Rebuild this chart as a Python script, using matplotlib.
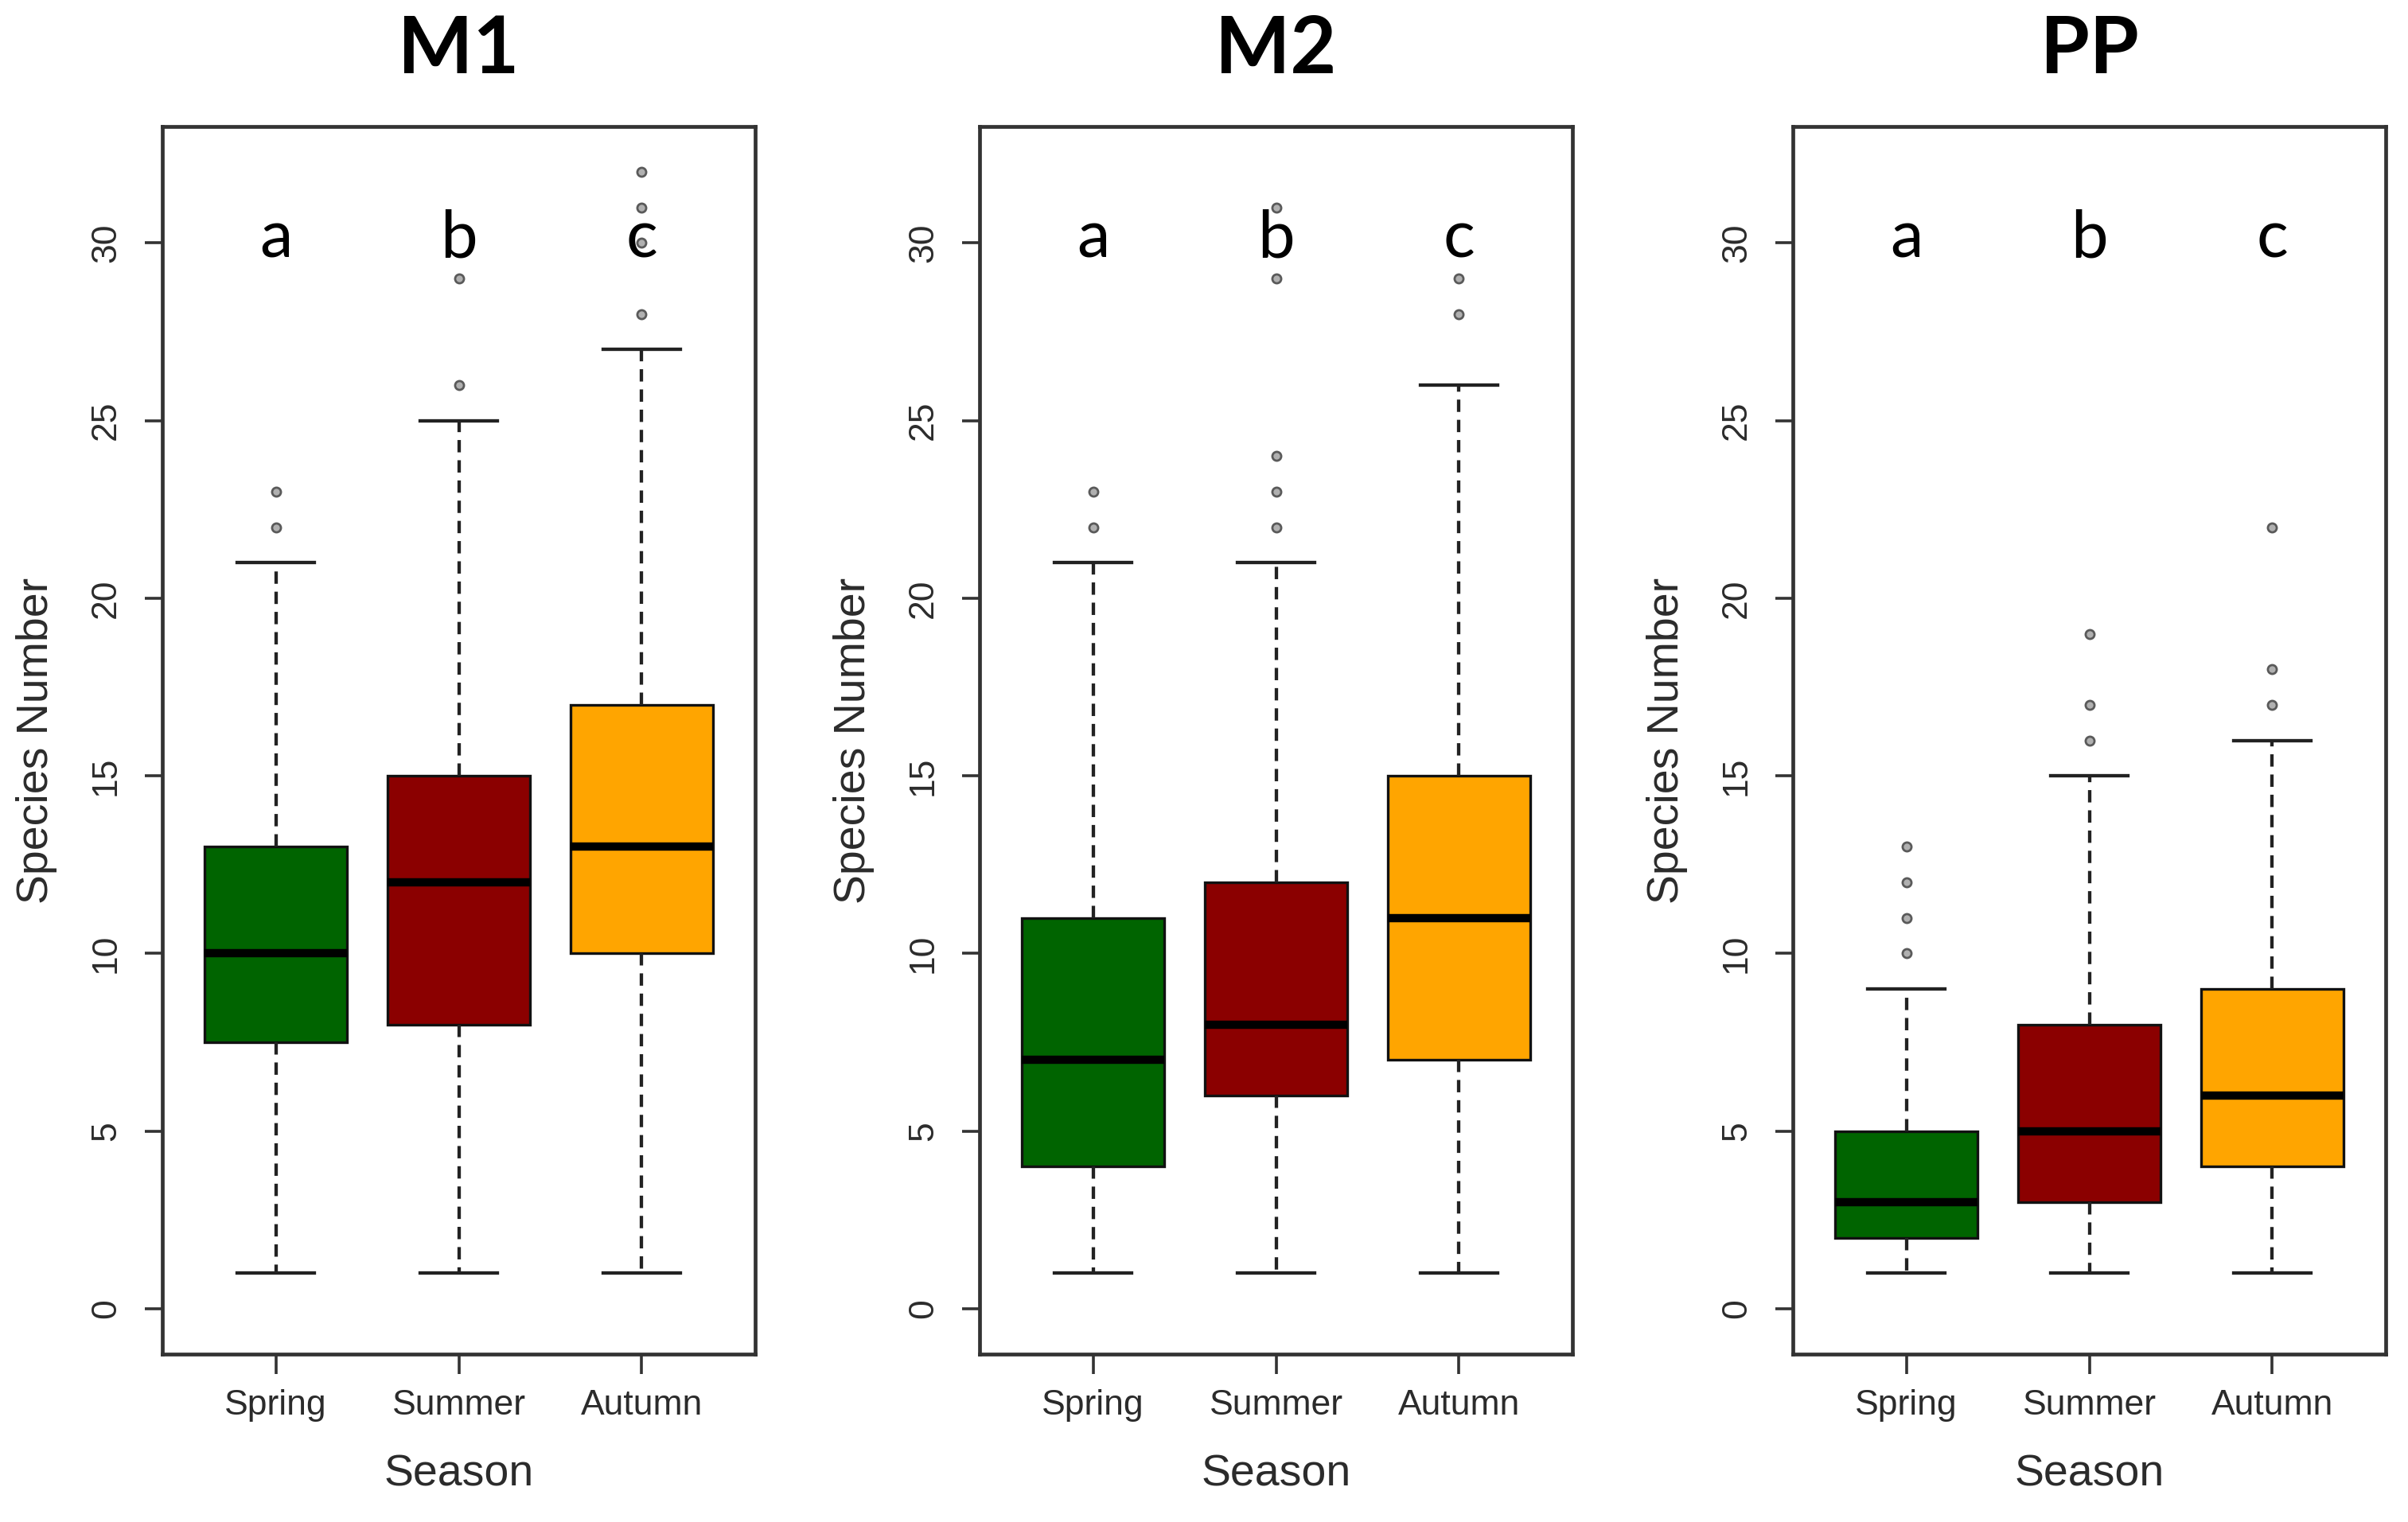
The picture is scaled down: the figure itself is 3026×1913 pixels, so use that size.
import matplotlib
matplotlib.use("Agg")
import matplotlib.pyplot as plt

# ---------------- data ----------------
panels = ["M1", "M2", "PP"]
seasons = ["Spring", "Summer", "Autumn"]
colors = ["#006400", "#8B0000", "#FFA500"]
letters = ["a", "b", "c"]
yticks = [0, 5, 10, 15, 20, 25, 30]

# per panel: lists over seasons (Spring, Summer, Autumn)
m1_whislo = [1, 1, 1]
m1_q1 = [7.5, 8, 10]
m1_med = [10, 12, 13]
m1_q3 = [13, 15, 17]
m1_whishi = [21, 25, 27]
m1_fliers = [[22, 23], [26, 29], [28, 30, 31, 32]]

m2_whislo = [1, 1, 1]
m2_q1 = [4, 6, 7]
m2_med = [7, 8, 11]
m2_q3 = [11, 12, 15]
m2_whishi = [21, 21, 26]
m2_fliers = [[22, 23], [22, 23, 24, 29, 31], [28, 29]]

pp_whislo = [1, 1, 1]
pp_q1 = [2, 3, 4]
pp_med = [3, 5, 6]
pp_q3 = [5, 8, 9]
pp_whishi = [9, 15, 16]
pp_fliers = [[10, 11, 12, 13], [16, 17, 19], [17, 18, 22]]

panel_data = [
    (m1_whislo, m1_q1, m1_med, m1_q3, m1_whishi, m1_fliers),
    (m2_whislo, m2_q1, m2_med, m2_q3, m2_whishi, m2_fliers),
    (pp_whislo, pp_q1, pp_med, pp_q3, pp_whishi, pp_fliers),
]

# ---------------- figure ----------------
W, H = 3026, 1913
DPI = 100
fig = plt.figure(figsize=(W / DPI, H / DPI), dpi=DPI)
fig.patch.set_facecolor("white")

R_FONT = ["Liberation Sans", "DejaVu Sans"]
C_FONT = ["Lato", "Open Sans", "DejaVu Sans"]
GREY = "#2b2b2b"

lefts_px = [204, 1231, 2253]
width_px = 745
top_px, bottom_px = 159, 1702

for i, (name, data) in enumerate(zip(panels, panel_data)):
    wl, q1, med, q3, wh, fl = data
    l = lefts_px[i] / W
    b = 1 - bottom_px / H
    w = width_px / W
    h = (bottom_px - top_px) / H
    ax = fig.add_axes([l, b, w, h])

    stats = []
    for k in range(len(seasons)):
        stats.append(dict(whislo=wl[k], q1=q1[k], med=med[k], q3=q3[k],
                          whishi=wh[k], fliers=fl[k], label=seasons[k]))

    bp = ax.bxp(stats, positions=[1, 2, 3], widths=0.78, capwidths=0.42,
                patch_artist=True, showfliers=True,
                boxprops=dict(linewidth=2.4, edgecolor="#111111"),
                medianprops=dict(color="black", linewidth=7.5, solid_capstyle="butt"),
                whiskerprops=dict(color="#222222", linewidth=3.1,
                                  linestyle=(0, (3.6, 2.3))),
                capprops=dict(color="#222222", linewidth=3.1),
                flierprops=dict(marker="o", markersize=8,
                                markerfacecolor="#b0b0b0",
                                markeredgecolor="#5a5a5a",
                                markeredgewidth=2.0, linestyle="none"))
    for patch, c in zip(bp["boxes"], colors):
        patch.set_facecolor(c)

    ax.set_xlim(0.38, 3.62)
    ax.set_ylim(-1.28, 33.28)

    for sp in ax.spines.values():
        sp.set_linewidth(3.4)
        sp.set_color("#333333")

    ax.set_yticks(yticks)
    ax.set_yticklabels([str(t) for t in yticks], rotation=90, va="center",
                       fontsize=32, family=R_FONT, color=GREY)
    ax.set_xticks([1, 2, 3])
    ax.set_xticklabels(seasons, fontsize=32, family=R_FONT, color=GREY)
    ax.tick_params(axis="y", length=16, width=2.6, color="#333333", pad=20)
    ax.tick_params(axis="x", length=18, width=2.6, color="#333333", pad=14)

    ax.set_ylabel("Species Number", fontsize=40, family=R_FONT, color=GREY,
                  va="center")
    ax.yaxis.set_label_coords(-0.212, 0.5)
    ax.set_xlabel("Season", fontsize=40, family=R_FONT, color=GREY, va="center")
    ax.xaxis.set_label_coords(0.5, -0.098)

    for k, let in enumerate(letters):
        ax.text(k + 1, 30.1, let, ha="center", va="center", fontsize=60,
                family=C_FONT, color="black")

    fig.text(l + w / 2, 1 - 64 / H, name, ha="center", va="center",
             fontsize=72, fontweight="bold", family=C_FONT, color="black")

fig.savefig("out.png", dpi=DPI, facecolor="white")
